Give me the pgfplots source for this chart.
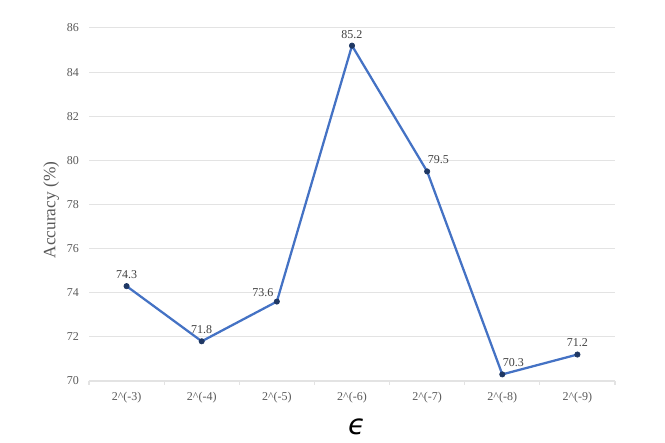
\documentclass[border=0pt]{standalone}
\usepackage{fontspec}
\setmainfont{Liberation Serif}
\newfontfamily\epsfont{DejaVu Sans}
\usepackage{pgfplots}
\pgfplotsset{compat=1.18}

\definecolor{linecol}{HTML}{4472C4}
\definecolor{markcol}{HTML}{1F3864}
\definecolor{gridcol}{HTML}{E3E3E3}
\definecolor{tickcol}{HTML}{595959}
\definecolor{labcol}{HTML}{404040}

\begin{document}
\begin{tikzpicture}[x=0.75pt, y=0.75pt]
% 1px = 0.75pt, picture is 665x443 px
\useasboundingbox (-89,-62) rectangle (576,381);

\begin{axis}[
  at={(0,0)}, anchor=south west,
  scale only axis,
  width=394.5pt, height=264.75pt,
  xmin=-0.5, xmax=6.5,
  ymin=70, ymax=86, ytick={70,72,...,86},
  xtick={0,...,6},
  xticklabels={2\^{}(-3),2\^{}(-4),2\^{}(-5),2\^{}(-6),2\^{}(-7),2\^{}(-8),2\^{}(-9)},
  minor xtick={-0.5,0.5,...,6.5},
  axis x line*=bottom, axis y line*=left,
  x axis line style={draw=gridcol, line width=0.8pt, -},
  y axis line style={draw=none},
  major tick length=0pt,
  minor tick length=3pt,
  tick align=outside,
  minor tick style={draw=gridcol, line width=0.8pt},
  ymajorgrids,
  grid style={draw=gridcol, line width=0.75pt},
  tick label style={font=\fontsize{9}{10}\selectfont, text=tickcol},
  yticklabel style={xshift=-4pt},
  xticklabel style={yshift=-4.5pt},
  /pgf/number format/assume math mode=true,
  every axis y label/.style={at={(axis description cs:-0.072,0.484)}, rotate=90, anchor=center},
  every axis x label/.style={at={(axis description cs:0.509,-0.13)}, anchor=center},
  ylabel={\fontsize{13}{14}\selectfont\color{tickcol}Accuracy (\%)},
  xlabel={\fontsize{21}{22}\selectfont\epsfont\itshape ϵ},
  point meta=explicit symbolic,
  every node near coord/.append style={font=\fontsize{9}{10}\selectfont, text=labcol},
  clip=false,
]
\addplot[color=linecol, line width=1.7pt, mark=*, mark size=2pt,
  mark options={fill=markcol, draw=markcol, line width=0.5pt}]
  coordinates {(0,74.3) (1,71.8) (2,73.6) (3,85.2) (4,79.5) (5,70.3) (6,71.2)};
% data labels, centred above
\addplot[draw=none, mark=none, nodes near coords,
  every node near coord/.append style={anchor=south, yshift=2pt}]
  coordinates {(0,74.3) [74.3] (1,71.8) [71.8] (3,85.2) [85.2] (6,71.2) [71.2]};
% labels up and to the right
\addplot[draw=none, mark=none, nodes near coords,
  every node near coord/.append style={anchor=south west, xshift=-3pt, yshift=2pt}]
  coordinates {(4,79.5) [79.5] (5,70.3) [70.3]};
% label up and to the left
\addplot[draw=none, mark=none, nodes near coords,
  every node near coord/.append style={anchor=south east, xshift=1pt, yshift=0pt}]
  coordinates {(2,73.6) [73.6]};
\end{axis}
\end{tikzpicture}
\end{document}
